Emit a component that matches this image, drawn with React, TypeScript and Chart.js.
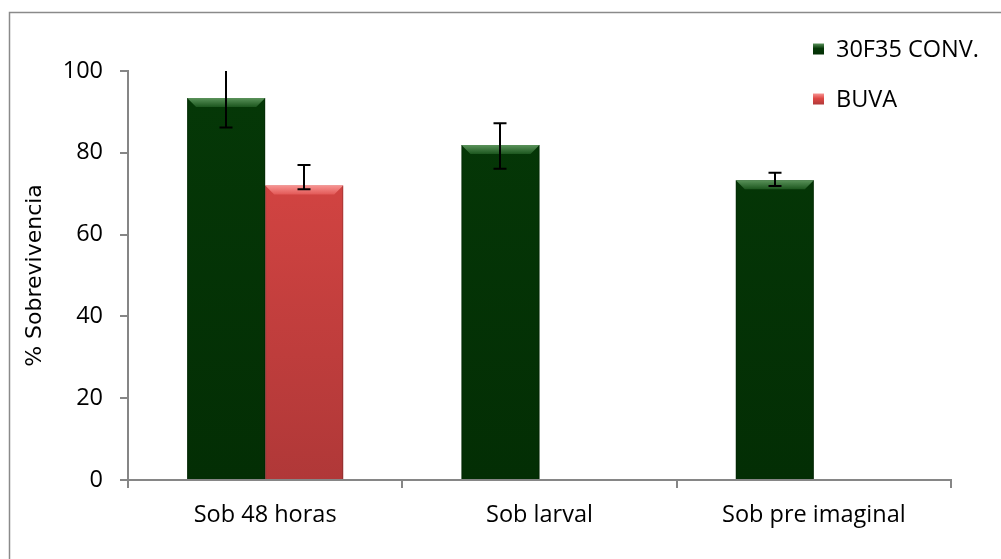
import React, { useEffect, useRef } from "react";
import { Chart, registerables } from "chart.js";

Chart.register(...registerables);

const categories = ["Sob 48 horas", "Sob larval", "Sob pre imaginal"];
const seriesNames = ["30F35 CONV.", "BUVA"];
const convValues = [93.4, 81.9, 73.3];
const convErrPlus = [7.2, 5.3, 1.8];
const convErrMinus = [7.2, 5.8, 1.4];
const buvaValues: (number | null)[] = [72.0, null, null];
const buvaErrPlus: (number | null)[] = [5.0, null, null];
const buvaErrMinus: (number | null)[] = [0.9, null, null];
const yMin = 0;
const yMax = 100;
const yStep = 20;
const yTitle = "% Sobrevivencia";

const FONT = "'Open Sans', sans-serif";
const FS = 23.5;
const GREEN = { top: "#053807", bottom: "#032e04", bevTop: "#5a925a", bevBottom: "#1c561e" };
const RED = { top: "#de4845", bottom: "#b03838", bevTop: "#f79492", bevBottom: "#e25856" };
const palettes = [GREEN, RED];

const errPlus = [convErrPlus, buvaErrPlus];
const errMinus = [convErrMinus, buvaErrMinus];

function fillFor(pal: typeof GREEN) {
  return (ctx: any) => {
    const chart = ctx.chart;
    const area = chart.chartArea;
    if (!area) return pal.top;
    const g = chart.ctx.createLinearGradient(0, area.top, 0, area.bottom);
    g.addColorStop(0, pal.top);
    g.addColorStop(1, pal.bottom);
    return g;
  };
}

const framePlugin = {
  id: "frame",
  beforeDraw(chart: any) {
    const c = chart.ctx;
    c.save();
    c.fillStyle = "#ffffff";
    c.fillRect(0, 0, chart.width, chart.height);
    c.strokeStyle = "#8a8a8a";
    c.lineWidth = 1.5;
    c.strokeRect(9.5, 12.5, chart.width + 20, chart.height + 20);
    c.restore();
  },
};

const bevelPlugin = {
  id: "bevel",
  afterDatasetsDraw(chart: any) {
    const c = chart.ctx;
    chart.data.datasets.forEach((ds: any, di: number) => {
      const meta = chart.getDatasetMeta(di);
      const pal = palettes[di];
      meta.data.forEach((el: any, i: number) => {
        if (ds.data[i] == null) return;
        const { x, y, base, width } = el.getProps(["x", "y", "base", "width"], true);
        const l = x - width / 2;
        const r = x + width / 2;
        const h = 9;
        c.save();
        const g = c.createLinearGradient(0, y, 0, y + h);
        g.addColorStop(0, pal.bevTop);
        g.addColorStop(1, pal.bevBottom);
        c.fillStyle = g;
        c.beginPath();
        c.moveTo(l, y);
        c.lineTo(r, y);
        c.lineTo(r - h, y + h);
        c.lineTo(l + h, y + h);
        c.closePath();
        c.fill();
        c.strokeStyle = "rgba(0,0,0,0.18)";
        c.lineWidth = 1;
        c.beginPath();
        c.moveTo(l + 0.5, y);
        c.lineTo(l + 0.5, base);
        c.moveTo(r - 0.5, y);
        c.lineTo(r - 0.5, base);
        c.stroke();
        c.restore();
      });
    });
  },
};

const errorPlugin = {
  id: "errorBars",
  afterDatasetsDraw(chart: any) {
    const c = chart.ctx;
    const yScale = chart.scales.y;
    const area = chart.chartArea;
    c.save();
    c.beginPath();
    c.rect(area.left, area.top, area.right - area.left, area.bottom - area.top);
    c.clip();
    c.strokeStyle = "#000000";
    c.lineWidth = 2;
    chart.data.datasets.forEach((ds: any, di: number) => {
      const meta = chart.getDatasetMeta(di);
      meta.data.forEach((el: any, i: number) => {
        const v = ds.data[i];
        const p = errPlus[di][i];
        const m = errMinus[di][i];
        if (v == null || p == null || m == null) return;
        const x = Math.round(el.x);
        const yt = yScale.getPixelForValue(v + p);
        const yb = yScale.getPixelForValue(v - m);
        const cap = 6.5;
        c.beginPath();
        c.moveTo(x, yt);
        c.lineTo(x, yb);
        c.moveTo(x - cap, yt);
        c.lineTo(x + cap, yt);
        c.moveTo(x - cap, yb);
        c.lineTo(x + cap, yb);
        c.stroke();
      });
    });
    c.restore();
  },
};

const legendPlugin = {
  id: "customLegend",
  afterDraw(chart: any) {
    const c = chart.ctx;
    c.save();
    chart.data.datasets.forEach((ds: any, di: number) => {
      const pal = palettes[di];
      const cy = 49 + di * 50;
      const sx = 813;
      const s = 11;
      const g = c.createLinearGradient(0, cy - s / 2, 0, cy + s / 2);
      g.addColorStop(0, pal.bevTop);
      g.addColorStop(0.45, pal.top);
      g.addColorStop(1, pal.bottom);
      c.fillStyle = g;
      c.fillRect(sx, cy - s / 2, s, s);
      c.fillStyle = "#000000";
      c.font = `${FS}px ${FONT}`;
      c.textBaseline = "middle";
      c.textAlign = "left";
      c.fillText(ds.label, 836, cy + 1);
    });
    c.restore();
  },
};

export default function App() {
  const ref = useRef<HTMLCanvasElement | null>(null);
  useEffect(() => {
    document.body.style.margin = "0";
    const canvas = ref.current;
    if (!canvas) return;
    const axisColor = "#868686";
    const chart = new Chart(canvas, {
      type: "bar",
      data: {
        labels: categories,
        datasets: [
          {
            label: seriesNames[0],
            data: convValues,
            backgroundColor: fillFor(GREEN),
            borderWidth: 0,
          },
          {
            label: seriesNames[1],
            data: buvaValues,
            backgroundColor: fillFor(RED),
            borderWidth: 0,
          },
        ],
      },
      options: {
        responsive: false,
        animation: false,
        devicePixelRatio: 1,
        layout: { padding: { top: 71, right: 50, left: 0, bottom: 0 } },
        datasets: { bar: { categoryPercentage: 0.569, barPercentage: 1.0 } },
        plugins: { legend: { display: false }, tooltip: { enabled: false }, title: { display: false } },
        scales: {
          x: {
            grid: { display: true, drawOnChartArea: false, drawTicks: true, tickLength: 8, color: axisColor, lineWidth: 2, offset: true },
            border: { display: true, color: axisColor, width: 2 },
            ticks: { color: "#000000", font: { family: FONT, size: FS }, padding: 13, maxRotation: 0 },
            afterFit: (s: any) => { s.height = 79; },
          },
          y: {
            min: yMin,
            max: yMax,
            grid: { display: true, drawOnChartArea: false, drawTicks: true, tickLength: 8, color: axisColor, lineWidth: 2 },
            border: { display: true, color: axisColor, width: 2 },
            ticks: { stepSize: yStep, color: "#000000", font: { family: FONT, size: FS }, padding: 17 },
            title: { display: true, text: yTitle, color: "#000000", font: { family: "'DejaVu Sans', sans-serif", size: 22 }, padding: { top: 22, bottom: 0 } },
            afterFit: (s: any) => { s.width = 128; },
          },
        },
      },
      plugins: [framePlugin, bevelPlugin, errorPlugin, legendPlugin],
    });
    return () => chart.destroy();
  }, []);
  return (
    <div style={{ width: 1001, height: 559 }}>
      <canvas ref={ref} width={1001} height={559} style={{ display: "block" }} />
    </div>
  );
}
